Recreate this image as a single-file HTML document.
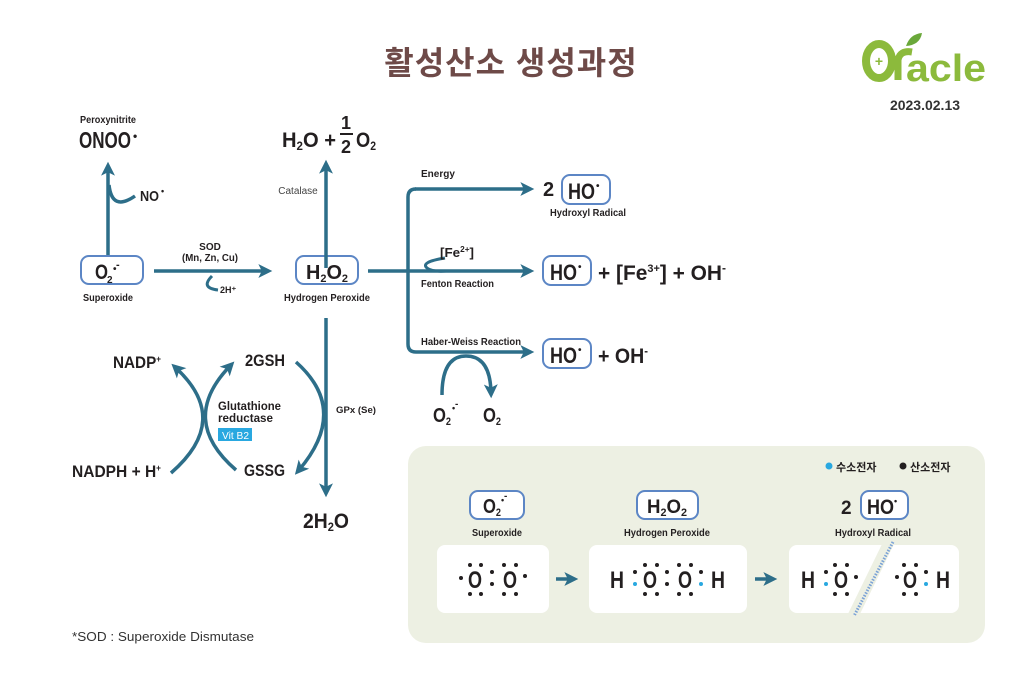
<!DOCTYPE html>
<html><head><meta charset="utf-8"><style>
html,body{margin:0;padding:0;background:#fff;}
svg{display:block;}
text{font-family:"Liberation Sans Narrow","Liberation Sans","Noto Sans CJK KR",sans-serif;font-weight:bold;fill:#231f20;}
.s{font-size:10px;}
.k{font-family:"Liberation Sans","Noto Sans CJK KR",sans-serif;}
.ln{stroke:#2d6e89;stroke-width:3.5;fill:none;}
.bx{fill:#fff;stroke:#5c86c5;stroke-width:2;}
</style></head><body>
<svg width="1015" height="673" viewBox="0 0 1015 673" xmlns="http://www.w3.org/2000/svg">
<defs>
<marker id="a" markerWidth="4" markerHeight="4" refX="2.2" refY="2" orient="auto" markerUnits="strokeWidth"><path d="M0,0 L4,2 L0,4 L1,2 Z" fill="#2d6e89"/></marker>
</defs>
<text x="511" y="74" text-anchor="middle" class="k" style="font-size:32px;fill:#6e4a48;letter-spacing:1px">활성산소 생성과정</text>
<ellipse cx="879" cy="61" rx="13" ry="17" fill="none" stroke="#8cba3c" stroke-width="8"/>
<text x="879" y="66" text-anchor="middle" style="font-size:14px;fill:#8cba3c">+</text>
<path d="M898,80 L898,60 Q900,50 912,52" stroke="#8cba3c" stroke-width="7" fill="none"/>
<path d="M906,46 Q910,34 922,33 Q920,45 906,46Z" fill="#6aa83a"/>
<text x="906" y="81" class="k" textLength="80" lengthAdjust="spacingAndGlyphs" style="font-size:38px;fill:#8cba3c">acle</text>
<text x="925" y="110" text-anchor="middle" class="k" style="font-size:14px;fill:#333">2023.02.13</text>

<text x="80" y="123" class="s" textLength="56" lengthAdjust="spacingAndGlyphs">Peroxynitrite</text>
<text x="79" y="148" textLength="52" lengthAdjust="spacingAndGlyphs" style="font-size:23px">ONOO</text><text x="133" y="140" style="font-size:12px">•</text>
<line x1="108" y1="268" x2="108" y2="168" class="ln" marker-end="url(#a)"/>
<path d="M109,185 Q112,212 135,196" class="ln"/>
<text x="140" y="201" textLength="19" lengthAdjust="spacingAndGlyphs" style="font-size:15px">NO</text><text x="161" y="194" style="font-size:9px">•</text>

<rect x="81" y="256" width="62" height="28" rx="8" class="bx"/>
<text x="95" y="279" textLength="13" lengthAdjust="spacingAndGlyphs" style="font-size:21px">O</text><text x="107" y="283" style="font-size:10px">2</text><text x="113" y="272" style="font-size:10px">•</text><text x="116" y="268" style="font-size:11px">-</text>
<text x="108" y="301" class="s" text-anchor="middle" textLength="50" lengthAdjust="spacingAndGlyphs">Superoxide</text>

<text x="210" y="250" class="s" text-anchor="middle">SOD</text>
<text x="210" y="261" class="s" text-anchor="middle" textLength="56" lengthAdjust="spacingAndGlyphs">(Mn, Zn, Cu)</text>
<line x1="154" y1="271" x2="266" y2="271" class="ln" marker-end="url(#a)"/>
<path d="M212,276 Q200,288 218,290" class="ln" style="stroke-width:3"/>
<text x="220" y="293" style="font-size:9px">2H⁺</text>

<rect x="296" y="256" width="62" height="28" rx="8" class="bx"/>
<text x="306" y="279" textLength="42" lengthAdjust="spacingAndGlyphs" style="font-size:20px">H<tspan font-size="11" dy="3">2</tspan><tspan dy="-3">O</tspan><tspan font-size="11" dy="3">2</tspan></text>
<text x="327" y="301" class="s" text-anchor="middle" textLength="86" lengthAdjust="spacingAndGlyphs">Hydrogen Peroxide</text>

<line x1="326" y1="268" x2="326" y2="166" class="ln" marker-end="url(#a)"/>
<text x="298" y="194" class="s" text-anchor="middle" style="font-weight:normal;fill:#444">Catalase</text>
<text x="282" y="147" textLength="54" lengthAdjust="spacingAndGlyphs" style="font-size:21px">H<tspan font-size="12" dy="3">2</tspan><tspan dy="-3">O +</tspan></text>
<text x="346" y="129" text-anchor="middle" style="font-size:18px">1</text>
<line x1="340" y1="134" x2="353" y2="134" stroke="#231f20" stroke-width="2"/>
<text x="346" y="153" text-anchor="middle" style="font-size:18px">2</text>
<text x="356" y="147" textLength="20" lengthAdjust="spacingAndGlyphs" style="font-size:21px">O<tspan font-size="12" dy="3">2</tspan></text>

<path d="M368,271 L528,271" class="ln" marker-end="url(#a)"/>
<path d="M416,189 Q408,189 408,197 L408,344 Q408,352 416,352 L528,352" class="ln" marker-end="url(#a)"/>
<line x1="415" y1="189" x2="528" y2="189" class="ln" marker-end="url(#a)"/>
<text x="421" y="177" class="s">Energy</text>
<text x="543" y="196" style="font-size:20px">2</text>
<rect x="562" y="175" width="48" height="29" rx="8" class="bx"/>
<text x="568" y="199" textLength="27" lengthAdjust="spacingAndGlyphs" style="font-size:22px">HO</text><text x="596" y="189" style="font-size:10px">•</text>
<text x="588" y="216" class="s" text-anchor="middle" textLength="76" lengthAdjust="spacingAndGlyphs">Hydroxyl Radical</text>

<path d="M445,258 Q420,262 427,268 Q432,272 446,271" class="ln" style="stroke-width:3"/>
<text x="440" y="257" textLength="34" lengthAdjust="spacingAndGlyphs" style="font-size:13px">[Fe<tspan font-size="8" dy="-5">2+</tspan><tspan dy="5">]</tspan></text>
<text x="421" y="287" class="s" textLength="73" lengthAdjust="spacingAndGlyphs">Fenton Reaction</text>
<rect x="543" y="256" width="48" height="29" rx="8" class="bx"/>
<text x="550" y="280" textLength="27" lengthAdjust="spacingAndGlyphs" style="font-size:22px">HO</text><text x="578" y="270" style="font-size:10px">•</text>
<text x="598" y="280" textLength="128" lengthAdjust="spacingAndGlyphs" style="font-size:21px">+ [Fe<tspan font-size="11" dy="-8">3+</tspan><tspan dy="8">] + OH</tspan><tspan font-size="12" dy="-8">-</tspan></text>

<text x="421" y="345" class="s" textLength="100" lengthAdjust="spacingAndGlyphs">Haber-Weiss Reaction</text>
<rect x="543" y="339" width="48" height="29" rx="8" class="bx"/>
<text x="550" y="363" textLength="27" lengthAdjust="spacingAndGlyphs" style="font-size:22px">HO</text><text x="578" y="353" style="font-size:10px">•</text>
<text x="598" y="363" textLength="50" lengthAdjust="spacingAndGlyphs" style="font-size:21px">+ OH<tspan font-size="12" dy="-8">-</tspan></text>
<path d="M442,395 Q442,356 466,356 Q490,356 491,392" class="ln" marker-end="url(#a)"/>
<text x="433" y="422" textLength="18" lengthAdjust="spacingAndGlyphs" style="font-size:20px">O<tspan font-size="11" dy="3">2</tspan></text><text x="452" y="411" style="font-size:9px">•</text><text x="455" y="407" style="font-size:10px">-</text>
<text x="483" y="422" textLength="18" lengthAdjust="spacingAndGlyphs" style="font-size:20px">O<tspan font-size="11" dy="3">2</tspan></text>

<text x="113" y="368" textLength="48" lengthAdjust="spacingAndGlyphs" style="font-size:17px">NADP<tspan font-size="9" dy="-6">+</tspan></text>
<text x="72" y="477" textLength="89" lengthAdjust="spacingAndGlyphs" style="font-size:17px">NADPH + H<tspan font-size="9" dy="-6">+</tspan></text>
<text x="245" y="366" textLength="40" lengthAdjust="spacingAndGlyphs" style="font-size:17px">2GSH</text>
<text x="244" y="476" textLength="41" lengthAdjust="spacingAndGlyphs" style="font-size:17px">GSSG</text>
<path d="M171,473 Q232,420 176,368" class="ln" marker-end="url(#a)"/>
<path d="M236,470 Q178,420 230,366" class="ln" marker-end="url(#a)"/>
<path d="M296,362 Q350,410 299,470" class="ln" marker-end="url(#a)"/>
<text x="218" y="410" textLength="63" lengthAdjust="spacingAndGlyphs" style="font-size:12px">Glutathione</text>
<text x="218" y="422" textLength="55" lengthAdjust="spacingAndGlyphs" style="font-size:12px">reductase</text>
<rect x="218" y="428" width="34" height="13" fill="#29a8e0"/>
<text x="222" y="439" textLength="27" lengthAdjust="spacingAndGlyphs" style="font-size:10px;fill:#fff;font-weight:normal">Vit B2</text>
<line x1="326" y1="318" x2="326" y2="491" class="ln" marker-end="url(#a)"/>
<text x="336" y="413" textLength="40" lengthAdjust="spacingAndGlyphs" style="font-size:9.5px">GPx (Se)</text>
<text x="303" y="528" textLength="46" lengthAdjust="spacingAndGlyphs" style="font-size:21px">2H<tspan font-size="12" dy="3">2</tspan><tspan dy="-3">O</tspan></text>

<text x="72" y="641" textLength="182" lengthAdjust="spacingAndGlyphs" style="font-size:13px;font-weight:normal;fill:#333">*SOD : Superoxide Dismutase</text>

<rect x="408" y="446" width="577" height="197" rx="18" fill="#edf0e3"/>
<circle cx="829" cy="466" r="3.5" fill="#29a8e0"/>
<text x="836" y="471" class="k" style="font-size:11px">수소전자</text>
<circle cx="903" cy="466" r="3.5" fill="#231f20"/>
<text x="910" y="471" class="k" style="font-size:11px">산소전자</text>

<rect x="470" y="491" width="54" height="28" rx="8" class="bx"/>
<text x="483" y="513" textLength="18" lengthAdjust="spacingAndGlyphs" style="font-size:20px">O<tspan font-size="11" dy="3">2</tspan></text><text x="501" y="503" style="font-size:9px">•</text><text x="504" y="499" style="font-size:10px">-</text>
<text x="497" y="536" class="s" text-anchor="middle" textLength="50" lengthAdjust="spacingAndGlyphs">Superoxide</text>
<rect x="637" y="491" width="61" height="28" rx="8" class="bx"/>
<text x="647" y="513" textLength="40" lengthAdjust="spacingAndGlyphs" style="font-size:19px">H<tspan font-size="11" dy="3">2</tspan><tspan dy="-3">O</tspan><tspan font-size="11" dy="3">2</tspan></text>
<text x="667" y="536" class="s" text-anchor="middle" textLength="86" lengthAdjust="spacingAndGlyphs">Hydrogen Peroxide</text>
<text x="841" y="514" style="font-size:19px">2</text>
<rect x="861" y="491" width="47" height="28" rx="8" class="bx"/>
<text x="867" y="514" textLength="27" lengthAdjust="spacingAndGlyphs" style="font-size:21px">HO</text><text x="894" y="504" style="font-size:9px">•</text>
<text x="873" y="536" class="s" text-anchor="middle" textLength="76" lengthAdjust="spacingAndGlyphs">Hydroxyl Radical</text>

<rect x="437" y="545" width="112" height="68" rx="8" fill="#fff"/>
<rect x="589" y="545" width="158" height="68" rx="8" fill="#fff"/>
<rect x="789" y="545" width="92" height="68" rx="8" fill="#fff"/>
<rect x="866" y="545" width="93" height="68" rx="8" fill="#fff"/>
<polygon points="884,540 896,540 858,618 846,618" fill="#edf0e3"/>
<line x1="893" y1="542" x2="854" y2="616" stroke="#7aa2d6" stroke-width="3" stroke-dasharray="1.5 1.5"/>
<line x1="556" y1="579" x2="572" y2="579" class="ln" marker-end="url(#a)"/>
<line x1="755" y1="579" x2="771" y2="579" class="ln" marker-end="url(#a)"/>

<g style="font-size:24px">
<text x="475" y="588" text-anchor="middle" textLength="14" lengthAdjust="spacingAndGlyphs">O</text><text x="510" y="588" text-anchor="middle" textLength="14" lengthAdjust="spacingAndGlyphs">O</text>
<text x="617" y="588" text-anchor="middle" textLength="14" lengthAdjust="spacingAndGlyphs">H</text><text x="650" y="588" text-anchor="middle" textLength="14" lengthAdjust="spacingAndGlyphs">O</text><text x="685" y="588" text-anchor="middle" textLength="14" lengthAdjust="spacingAndGlyphs">O</text><text x="718" y="588" text-anchor="middle" textLength="14" lengthAdjust="spacingAndGlyphs">H</text>
<text x="808" y="588" text-anchor="middle" textLength="14" lengthAdjust="spacingAndGlyphs">H</text><text x="841" y="588" text-anchor="middle" textLength="14" lengthAdjust="spacingAndGlyphs">O</text>
<text x="910" y="588" text-anchor="middle" textLength="14" lengthAdjust="spacingAndGlyphs">O</text><text x="943" y="588" text-anchor="middle" textLength="14" lengthAdjust="spacingAndGlyphs">H</text>
</g>
<g fill="#231f20">
<circle cx="461" cy="578" r="2"/><circle cx="470" cy="565" r="2"/><circle cx="481" cy="565" r="2"/><circle cx="470" cy="594" r="2"/><circle cx="481" cy="594" r="2"/>
<circle cx="492" cy="572" r="2"/><circle cx="492" cy="584" r="2"/>
<circle cx="504" cy="565" r="2"/><circle cx="516" cy="565" r="2"/><circle cx="504" cy="594" r="2"/><circle cx="516" cy="594" r="2"/><circle cx="525" cy="576" r="2"/>
<circle cx="635" cy="572" r="2"/><circle cx="645" cy="565" r="2"/><circle cx="657" cy="565" r="2"/><circle cx="645" cy="594" r="2"/><circle cx="657" cy="594" r="2"/>
<circle cx="667" cy="572" r="2"/><circle cx="667" cy="584" r="2"/>
<circle cx="679" cy="565" r="2"/><circle cx="691" cy="565" r="2"/><circle cx="679" cy="594" r="2"/><circle cx="691" cy="594" r="2"/><circle cx="701" cy="572" r="2"/>
<circle cx="826" cy="572" r="2"/><circle cx="835" cy="565" r="2"/><circle cx="847" cy="565" r="2"/><circle cx="835" cy="594" r="2"/><circle cx="847" cy="594" r="2"/><circle cx="856" cy="577" r="2"/>
<circle cx="897" cy="577" r="2"/><circle cx="904" cy="565" r="2"/><circle cx="916" cy="565" r="2"/><circle cx="904" cy="594" r="2"/><circle cx="916" cy="594" r="2"/><circle cx="926" cy="572" r="2"/>
</g>
<g fill="#29a8e0">
<circle cx="635" cy="584" r="2"/><circle cx="701" cy="584" r="2"/><circle cx="826" cy="584" r="2"/><circle cx="926" cy="584" r="2"/>
</g>
</svg>
</body></html>
